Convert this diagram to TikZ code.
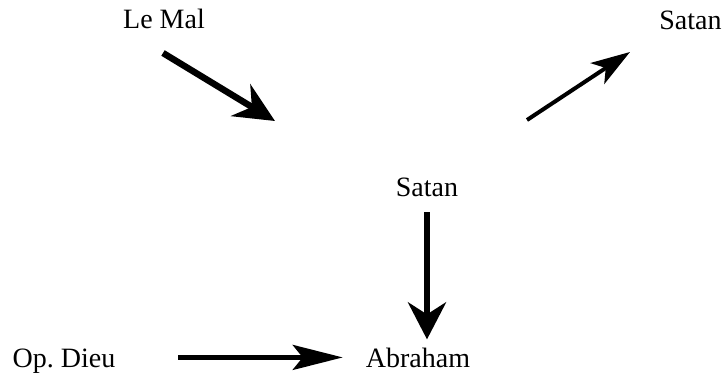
\documentclass[tikz,border=0pt]{standalone}
\usepackage{fontspec}
\setmainfont{Liberation Serif}
\usetikzlibrary{arrows.meta}

\begin{document}
\begin{tikzpicture}[x=1pt, y=-1pt,
        lbl/.style={font=\fontsize{28}{32}\selectfont, inner sep=4pt, anchor=base},
        heavyarrow/.style={line width=6.5pt, -{Stealth[length=40pt, width=37pt, inset=13pt]}},
        downarrow/.style={line width=6pt, -{Stealth[length=37pt, width=38pt, inset=12pt]}},
        thinarrow/.style={line width=4pt, -{Stealth[length=39pt, width=25pt, inset=10pt]}},
        longarrow/.style={line width=4.5pt, -{Stealth[length=50pt, width=25pt, inset=10pt]}}]
    \useasboundingbox (0,0) rectangle (723,375);
    % labels
    \node[lbl] (lemal) at (164,28) {Le Mal};
    \node[lbl] (satantop) at (690.5,29) {Satan};
    \node[lbl] (satan) at (427,196) {Satan};
    \node[lbl] (abraham) at (418,367) {Abraham};
    \node[lbl] (opdieu) at (64,367) {Op.\ Dieu};
    % free ends of the two slanted arrows
    \coordinate (malstart) at (163,53);
    \coordinate (malend) at (275,121);
    \coordinate (satstart) at (527,120);
    \coordinate (satend) at (630,52);
    \draw[heavyarrow] (malstart) -- (malend);
    \draw[thinarrow] (satstart) -- (satend);
    \draw[downarrow, shorten <=12pt, shorten >=4pt] (satan.south) -- (satan.south |- abraham.north);
    \draw[longarrow, shorten <=58.7pt, shorten >=19pt] (opdieu.east |- abraham.west) -- (abraham.west);
\end{tikzpicture}
\end{document}
